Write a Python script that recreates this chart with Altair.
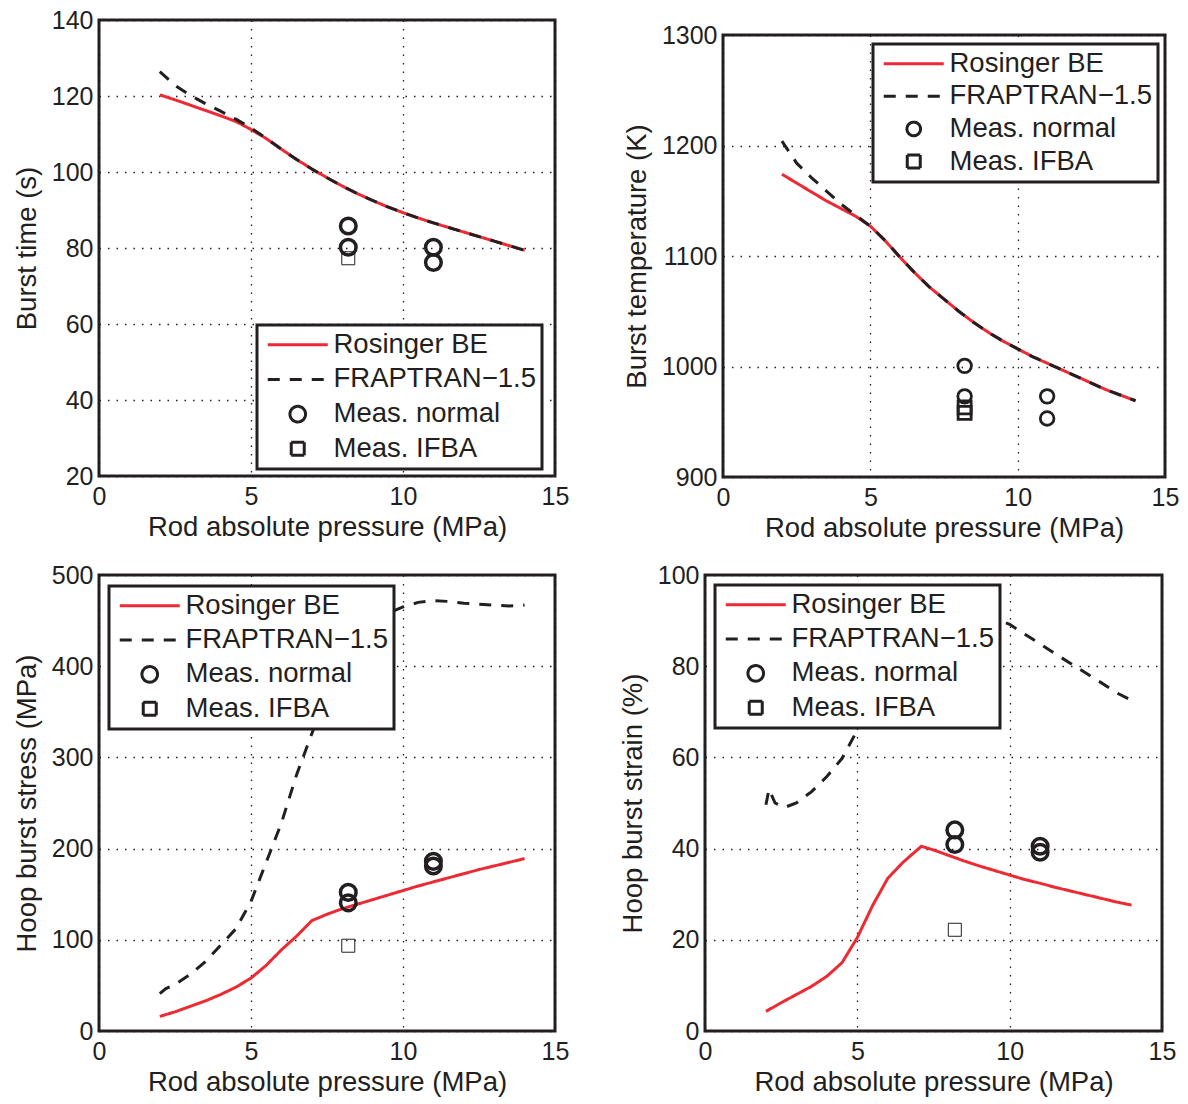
import altair as alt
import pandas as pd

SERIES = ["Rosinger BE", "FRAPTRAN\u22121.5", "Meas. normal", "Meas. IFBA"]
RED = "#ED2A33"
INK = "#231F20"
XTITLE = "Rod absolute pressure (MPa)"

# ---------- Panel 1: burst time ----------
P1_ROS_X = [2, 2.5, 3, 3.5, 4, 4.5, 5, 5.5, 6, 6.5, 7, 7.5, 8, 8.5, 9, 9.5, 10, 10.5, 11, 11.5, 12, 12.5, 13, 13.5, 14]
P1_ROS_Y = [120.3, 119.0, 117.6, 116.2, 114.8, 113.3, 111.2, 108.8, 106.0, 103.3, 100.8, 98.5, 96.3, 94.3, 92.5, 90.8, 89.3, 87.9, 86.6, 85.4, 84.2, 83.0, 81.8, 80.6, 79.4]
P1_FRAP_X = [2, 2.5, 3, 3.5, 4, 4.5, 5, 5.5, 6, 6.5, 7, 7.5, 8, 8.5, 9, 9.5, 10, 10.5, 11, 11.5, 12, 12.5, 13, 13.5, 14]
P1_FRAP_Y = [126.4, 122.8, 120.2, 118.0, 116.0, 113.9, 111.6, 108.9, 106.0, 103.3, 100.8, 98.5, 96.3, 94.3, 92.5, 90.8, 89.3, 87.9, 86.6, 85.4, 84.2, 83.0, 81.8, 80.6, 79.4]
P1_NORM_X = [8.2, 8.2, 11.0, 11.0]
P1_NORM_Y = [85.8, 80.2, 80.2, 76.2]
P1_IFBA_X = [8.2]
P1_IFBA_Y = [77.3]

# ---------- Panel 2: burst temperature ----------
P2_ROS_X = [2, 2.5, 3, 3.5, 4, 4.5, 5, 5.5, 6, 6.5, 7, 7.5, 8, 8.5, 9, 9.5, 10, 10.5, 11, 11.5, 12, 12.5, 13, 13.5, 14]
P2_ROS_Y = [1174, 1166, 1158, 1150, 1143, 1136, 1127, 1114, 1099, 1085, 1072, 1061, 1050, 1040, 1031, 1023, 1016, 1009, 1003, 997, 991, 985, 979, 974, 969]
P2_FRAP_X = [2, 2.5, 3, 3.5, 4, 4.5, 5, 5.5, 6, 6.5, 7, 7.5, 8, 8.5, 9, 9.5, 10, 10.5, 11, 11.5, 12, 12.5, 13, 13.5, 14]
P2_FRAP_Y = [1204, 1184, 1171, 1159, 1147, 1137, 1127, 1114, 1099, 1085, 1072, 1061, 1050, 1040, 1031, 1023, 1016, 1009, 1003, 997, 991, 985, 979, 974, 969]
P2_NORM_X = [8.2, 8.2, 11.0, 11.0]
P2_NORM_Y = [1000.6, 973, 973, 953]
P2_IFBA_X = [8.2, 8.2]
P2_IFBA_Y = [963, 958]

# ---------- Panel 3: hoop burst stress ----------
P3_ROS_X = [2, 2.5, 3, 3.5, 4, 4.5, 5, 5.5, 6, 6.5, 7, 7.5, 8, 8.5, 9, 9.5, 10, 10.5, 11, 11.5, 12, 12.5, 13, 13.5, 14]
P3_ROS_Y = [16, 21, 27, 33, 40, 48, 58, 72, 89, 104, 121, 128, 134, 139, 144, 149, 154, 159, 163.5, 168, 172.5, 177, 181, 185, 189]
P3_FRAP_X = [2, 2.2, 2.5, 3, 3.5, 4, 4.5, 5, 5.5, 6, 6.5, 7, 7.5, 8, 8.5, 9, 9.5, 10, 10.5, 11, 11.5, 12, 12.5, 13, 13.5, 14]
P3_FRAP_Y = [41, 46.5, 51, 62, 76, 94, 112, 142, 185, 228, 281, 326, 370, 405, 430, 448, 458, 465, 470, 472, 471, 469, 468, 467, 466, 467]
P3_NORM_X = [8.2, 8.2, 11.0, 11.0]
P3_NORM_Y = [152, 140.5, 186, 181]
P3_IFBA_X = [8.2]
P3_IFBA_Y = [93.5]

# ---------- Panel 4: hoop burst strain ----------
P4_ROS_X = [2, 2.5, 3, 3.5, 4, 4.5, 5, 5.5, 6, 6.5, 7.1, 7.5, 8, 8.5, 9, 9.5, 10, 10.5, 11, 11.5, 12, 12.5, 13, 13.5, 14]
P4_ROS_Y = [4.3, 6.2, 8.0, 9.8, 12.0, 15.0, 20.5, 27.5, 33.5, 37.0, 40.5, 39.7, 38.5, 37.3, 36.2, 35.2, 34.2, 33.2, 32.4, 31.5, 30.7, 29.9, 29.1, 28.3, 27.6]
P4_FRAP_X = [2, 2.1, 2.3, 2.6, 3, 3.5, 4, 4.5, 5, 5.5, 6, 6.5, 7, 7.5, 8, 8.5, 9, 9.5, 10, 10.5, 11, 11.5, 12, 12.5, 13, 13.5, 14]
P4_FRAP_Y = [49.6, 53, 50, 49, 50, 52.5, 55.8, 59.8, 66, 73, 80, 86, 90.5, 93, 94, 93.5, 92, 90.5, 89.2, 87, 84.9, 82.7, 80.6, 78.5, 76.4, 74.2, 72.5]
P4_NORM_X = [8.2, 8.2, 11.0, 11.0]
P4_NORM_Y = [44.1, 40.9, 40.5, 39.2]
P4_IFBA_X = [8.2]
P4_IFBA_Y = [22.2]

# symbol shapes (unit paths, scaled by the symbol size)
LINE = "M-3,0L3,0"
SQUARE = "M-0.65,-0.65L0.65,-0.65L0.65,0.65L-0.65,0.65Z"


def circle(r):
    return f"M{r},0A{r},{r},0,1,1,-{r},0A{r},{r},0,1,1,{r},0Z"


def panel(ros_x, ros_y, frap_x, frap_y, norm_x, norm_y, ifba_x, ifba_y,
          ydomain, yvalues, ytitle, width, height, lx, ly, row_pad,
          circ_r, ifba_sw, circ_sw):
    lines = pd.DataFrame({
        "p": ros_x + frap_x,
        "v": ros_y + frap_y,
        "series": [SERIES[0]] * len(ros_x) + [SERIES[1]] * len(frap_x),
    })
    norm = pd.DataFrame({"p": norm_x, "v": norm_y, "series": [SERIES[2]] * len(norm_x)})
    ifba = pd.DataFrame({"p": ifba_x, "v": ifba_y, "series": [SERIES[3]] * len(ifba_x)})

    leg = alt.Legend(title=None, orient="none", legendX=lx, legendY=ly,
                     direction="vertical", columns=1, rowPadding=row_pad)
    x = alt.X("p:Q", scale=alt.Scale(domain=[0, 15], nice=False, zero=False),
              axis=alt.Axis(values=[0, 5, 10, 15], title=XTITLE, format="d"))
    y = alt.Y("v:Q", scale=alt.Scale(domain=ydomain, nice=False, zero=False),
              axis=alt.Axis(values=yvalues, title=ytitle, format="d"))
    color = alt.Color("series:N", scale=alt.Scale(domain=SERIES, range=[RED, INK, INK, INK]), legend=leg)
    shape = alt.Shape("series:N", scale=alt.Scale(domain=SERIES, range=[LINE, LINE, circle(circ_r), SQUARE]), legend=leg)
    dash = alt.StrokeDash("series:N", scale=alt.Scale(domain=SERIES, range=[[1, 0], [12, 10], [1, 0], [1, 0]]), legend=leg)

    line_layer = alt.Chart(lines).mark_line(strokeWidth=3).encode(
        x=x, y=y, color=color, strokeDash=dash)
    norm_layer = alt.Chart(norm).mark_point(filled=False, size=400, opacity=1, strokeWidth=circ_sw).encode(
        x=x, y=y, color=color, shape=shape)
    ifba_layer = alt.Chart(ifba).mark_point(filled=False, size=400, opacity=1, strokeWidth=ifba_sw).encode(
        x=x, y=y, color=color, shape=shape)
    return alt.layer(line_layer, norm_layer, ifba_layer).properties(width=width, height=height)


IND = dict(color="independent", shape="independent", strokeDash="independent",
           x="independent", y="independent")

p1 = panel(P1_ROS_X, P1_ROS_Y, P1_FRAP_X, P1_FRAP_Y, P1_NORM_X, P1_NORM_Y, P1_IFBA_X, P1_IFBA_Y,
           [20, 140], [20, 40, 60, 80, 100, 120, 140], "Burst time (s)", 456, 456, 158, 305, 5.7,
           0.78, 1, 3.5)
p2 = panel(P2_ROS_X, P2_ROS_Y, P2_FRAP_X, P2_FRAP_Y, P2_NORM_X, P2_NORM_Y, P2_IFBA_X, P2_IFBA_Y,
           [900, 1300], [900, 1000, 1100, 1200, 1300], "Burst temperature (K)", 442, 442, 150, 9, 3.6,
           0.68, 2.8, 2.8)
p3 = panel(P3_ROS_X, P3_ROS_Y, P3_FRAP_X, P3_FRAP_Y, P3_NORM_X, P3_NORM_Y, P3_IFBA_X, P3_IFBA_Y,
           [0, 500], [0, 100, 200, 300, 400, 500], "Hoop burst stress (MPa)", 456, 456, 10, 11, 5.3,
           0.78, 1, 3.5)
p4 = panel(P4_ROS_X, P4_ROS_Y, P4_FRAP_X, P4_FRAP_Y, P4_NORM_X, P4_NORM_Y, P4_IFBA_X, P4_IFBA_Y,
           [0, 100], [0, 20, 40, 60, 80, 100], "Hoop burst strain (%)", 457, 456, 10, 10, 5.3,
           0.78, 1, 3.5)

spacer = alt.Chart(pd.DataFrame({"s": [0]})).mark_point(opacity=0, size=1).properties(
    width=10, height=1, view=alt.ViewBackground(stroke=None))

right_top = alt.vconcat(spacer, p2, spacing=0).resolve_scale(**IND)
top = alt.hconcat(p1, right_top, spacing=50).resolve_scale(**IND)
bottom = alt.hconcat(p3, p4, spacing=46).resolve_scale(**IND)

chart = alt.vconcat(top, bottom, spacing=18).resolve_scale(**IND).properties(
    padding={"left": 11, "top": 6, "right": 5, "bottom": 2}
).configure(
    font="Liberation Sans"
).configure_view(
    stroke=INK, strokeWidth=3
).configure_axis(
    labelFont="Liberation Sans", labelFontSize=25, labelColor=INK,
    titleFont="Liberation Sans", titleFontSize=27.5, titleFontWeight="normal", titleColor=INK,
    domain=False, ticks=False, grid=True, gridColor=INK, gridDash=[1.5, 7], gridWidth=1.3,
    labelFlush=False, labelOverlap=False
).configure_axisX(
    labelPadding=8, titlePadding=4
).configure_axisY(
    labelPadding=6, titlePadding=10
).configure_legend(
    labelFont="Liberation Sans", labelFontSize=27.5, labelColor=INK, labelLimit=400,
    symbolSize=400, symbolStrokeWidth=3, symbolOffset=21, labelOffset=22, padding=6,
    strokeColor=INK, strokeWidth=3, fillColor="white"
)

chart.save("out.html", embed_options={"renderer": "svg", "actions": False})
